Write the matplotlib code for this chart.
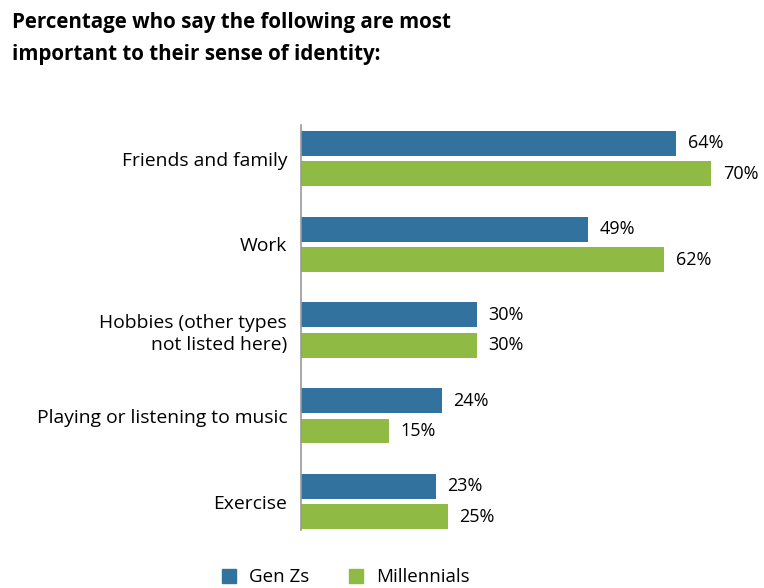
import numpy as np
import matplotlib.pyplot as plt
from matplotlib.patches import Patch

plt.rcParams['font.family'] = ['Open Sans', 'DejaVu Sans']

# --- Data ---
categories = ["Friends and family", "Work", "Hobbies (other types\nnot listed here)",
              "Playing or listening to music", "Exercise"]
gen_z = [64, 49, 30, 24, 23]
millennials = [70, 62, 30, 15, 25]

BLUE = "#31729f"
GREEN = "#8fba43"

fig = plt.figure(figsize=(7.64, 5.88), dpi=100)
ax = fig.add_axes([0.394, 0.099, 0.606, 0.688])

y = np.arange(len(categories))
h = 0.29
off = 0.177
ax.barh(y - off, gen_z, height=h, color=BLUE)
ax.barh(y + off, millennials, height=h, color=GREEN)

for yi, v in zip(y - off, gen_z):
    ax.text(v + 2.0, yi, f"{v}%", va="center", ha="left", fontsize=13)
for yi, v in zip(y + off, millennials):
    ax.text(v + 2.0, yi, f"{v}%", va="center", ha="left", fontsize=13)

ax.set_xlim(0, 79)
ax.set_ylim(4.33, -0.39)
ax.set_yticks(y)
ax.set_yticklabels(categories, fontsize=13.9, ha="right", linespacing=1.25)
ax.tick_params(axis="y", length=0, pad=10)
ax.set_xticks([])
for s in ["top", "right", "bottom"]:
    ax.spines[s].set_visible(False)
ax.spines["left"].set_color("#999999")
ax.spines["left"].set_linewidth(1.2)

fig.text(0.016, 0.979, "Percentage who say the following are most\nimportant to their sense of identity:",
         fontsize=14.8, fontweight="bold", va="top", ha="left", linespacing=1.65)

handles = [Patch(color=BLUE, label="Gen Zs"), Patch(color=GREEN, label="Millennials")]
fig.legend(handles=handles, loc="center", bbox_to_anchor=(0.453, 0.018), ncol=2,
           frameon=False, fontsize=13.5, handlelength=0.75, handleheight=0.75,
           handletextpad=0.7, columnspacing=2.1)

fig.savefig("out.png", dpi=100)
